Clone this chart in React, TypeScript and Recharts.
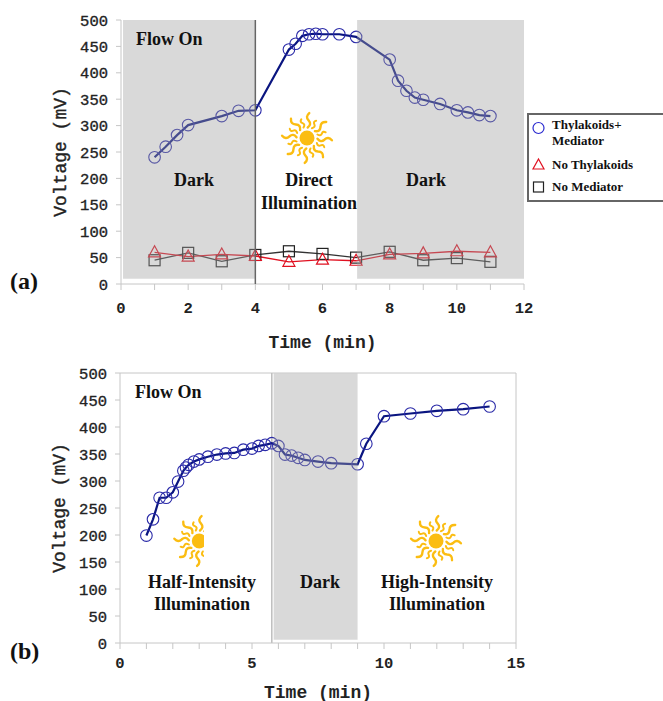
import React from "react";
import {
	LineChart,
	Line,
	XAxis,
	YAxis,
	ReferenceArea,
	ReferenceLine,
} from "recharts";

// panel (a)
const A_THYL_X = [1, 1.33, 1.67, 2, 3, 3.5, 4, 5, 5.2, 5.4, 5.6, 5.8, 6, 6.5, 7, 8, 8.25, 8.5, 8.75, 9, 9.5, 10, 10.33, 10.67, 11];
const A_THYL_Y = [240, 260, 282, 301, 318, 328, 329, 444, 455, 470, 473, 474, 473, 473, 468, 425, 385, 366, 353, 349, 341, 329, 325, 320, 318];
const A_CTRL_X = [1, 2, 3, 4, 5, 6, 7, 8, 9, 10, 11];
const A_NO_THYL = [60, 52, 56, 53, 42, 46, 44, 56, 58, 62, 60];
const A_NO_MED = [45, 59, 43, 55, 62, 57, 50, 61, 45, 49, 42];

// panel (b)
const B_X = [1, 1.25, 1.5, 1.75, 2, 2.2, 2.4, 2.5, 2.6, 2.8, 3, 3.33, 3.67, 4, 4.33, 4.67, 5, 5.25, 5.5, 5.75, 6, 6.25, 6.5, 6.75, 7, 7.5, 8, 9, 9.33, 10, 11, 12, 13, 14];
const B_Y = [199, 229, 269, 269, 279, 299, 319, 325, 330, 336, 340, 345, 349, 351, 352, 358, 360, 365, 367, 370, 365, 349, 347, 343, 339, 336, 333, 331, 369, 420, 425, 430, 433, 438];

const A_TICKS = [0, 1, 2, 3, 4, 5, 6, 7, 8, 9, 10, 11, 12];
const B_TICKS = [0, 1, 2, 3, 4, 5, 6, 7, 8, 9, 10, 11, 12, 13, 14, 15];
const Y_TICKS = [0, 50, 100, 150, 200, 250, 300, 350, 400, 450, 500];

const aThyl = A_THYL_X.map((t, i) => ({ t, v: A_THYL_Y[i] }));
const aNoThyl = A_CTRL_X.map((t, i) => ({ t, v: A_NO_THYL[i] }));
const aNoMed = A_CTRL_X.map((t, i) => ({ t, v: A_NO_MED[i] }));
const bThyl = B_X.map((t, i) => ({ t, v: B_Y[i] }));

const MONO = "'Liberation Mono', monospace";
const SERIF = "'Liberation Serif', serif";
const AXIS = "#c6c6c6";
// sits on top of the lines, they show through washed out
const SHADE = { fill: "#a0a0a0", fillOpacity: 0.4, stroke: "none" };
const xTickStyle = { fill: "#222", fontSize: 15.5, fontFamily: MONO, fontWeight: 700 };
const yTickStyle = { fill: "#222", stroke: "#222", strokeWidth: 0.35, fontSize: 15.5, fontFamily: MONO };
const timeStyle = { fill: "#222", fontSize: 18, fontFamily: MONO, fontWeight: 700 };
const voltStyle = { fill: "#222", stroke: "#222", strokeWidth: 0.4, fontSize: 18, fontFamily: MONO, textAnchor: "middle" };

const Circle = (props: any) => (
	<circle key={props.key} cx={props.cx} cy={props.cy} r={5.8} fill="none" stroke="#2a2aa8" strokeWidth={1.1} />
);
const Triangle = (props: any) => (
	<path
		key={props.key}
		d={`M${props.cx},${props.cy - 6.5}L${props.cx + 6},${props.cy + 4.5}L${props.cx - 6},${props.cy + 4.5}Z`}
		fill="none"
		stroke="#e01020"
		strokeWidth={1.2}
	/>
);
const Square = (props: any) => (
	<rect key={props.key} x={props.cx - 5.5} y={props.cy - 5.5} width={11} height={11} fill="none" stroke="#222" strokeWidth={1.2} />
);

function Sun({ x, y, half }: { x: number; y: number; half?: boolean }) {
	const rays = [];
	for (let i = 0; i < 16; i++) {
		const a = (i * 360) / 16 + 4;
		const d =
			i % 2 === 0
				? "M0,-10.5 Q4,-14 0.5,-17.5 Q-3.5,-21 0.5,-25"
				: "M0,-11 Q3,-13.5 0.5,-15.5 Q-2,-17.5 0.5,-19.5";
		rays.push(
			<path key={i} transform={`rotate(${a})`} d={d} fill="none" stroke="#fbbd12" strokeWidth={i % 2 === 0 ? 2.4 : 2} strokeLinecap="round" />,
		);
	}
	return (
		<svg
			width={half ? 31 : 60}
			height={60}
			viewBox={half ? "-26.3 -30 31 60" : "-30 -30 60 60"}
			style={{ position: "absolute", left: x - (half ? 26.3 : 30), top: y - 30 }}
		>
			<circle r={7.5} fill="#fbbd12" />
			{rays}
		</svg>
	);
}

function Note({ x, y, text, left, size = 18 }: { x: number; y: number; text: string; left?: boolean; size?: number }) {
	return (
		<div
			style={{
				position: "absolute",
				left: x,
				top: y,
				transform: left ? "translateY(-50%)" : "translate(-50%, -50%)",
				fontFamily: SERIF,
				fontWeight: 700,
				fontSize: size,
				color: "#111",
				whiteSpace: "nowrap",
			}}
		>
			{text}
		</div>
	);
}

function LegendBox() {
	const text = { position: "absolute", left: 23, fontFamily: SERIF, fontWeight: 700, fontSize: 13, color: "#111", lineHeight: "16px" } as React.CSSProperties;
	return (
		<div style={{ position: "absolute", left: 527, top: 113, width: 140, height: 85, border: "2px solid #666", background: "#fff" }}>
			<svg width={30} height={85} style={{ position: "absolute", left: 0, top: 0 }}>
				<circle cx={9.5} cy={13} r={5.5} fill="none" stroke="#2a2ad0" strokeWidth={1.2} />
				<path d="M9.5,44L15,54L4,54Z" fill="none" stroke="#e01020" strokeWidth={1.2} />
				<rect x={4.5} y={67} width={10} height={10} fill="none" stroke="#222" strokeWidth={1.2} />
			</svg>
			<div style={{ ...text, top: 2 }}>Thylakoids+</div>
			<div style={{ ...text, top: 18 }}>Mediator</div>
			<div style={{ ...text, top: 42 }}>No Thylakoids</div>
			<div style={{ ...text, top: 64 }}>No Mediator</div>
		</div>
	);
}

export default function App() {
	return (
		<div style={{ position: "absolute", left: 0, top: 0, width: 663, height: 701, overflow: "hidden", background: "#fff" }}>
			<div style={{ position: "absolute", left: 0, top: 0 }}>
				<LineChart width={663} height={364} margin={{ top: 20, right: 139, bottom: 0, left: 61 }}>
					<XAxis
						dataKey="t"
						type="number"
						domain={[0, 12]}
						ticks={A_TICKS}
						interval={0}
						allowDuplicatedCategory={false}
						height={80}
						tick={xTickStyle}
						tickSize={6}
						tickMargin={12}
						stroke={AXIS}
						tickFormatter={(v: number) => (v % 2 === 0 ? String(v) : "")}
						label={{ value: "Time (min)", position: "insideBottom", offset: 16, style: timeStyle }}
					/>
					<YAxis
						type="number"
						domain={[0, 500]}
						ticks={Y_TICKS}
						width={60}
						tick={yTickStyle}
						tickSize={5}
						tickMargin={8}
						stroke={AXIS}
						label={{ value: "Voltage (mV)", angle: -90, position: "insideLeft", offset: -1, style: voltStyle }}
					/>
					<Line data={aNoMed} dataKey="v" stroke="#333" strokeWidth={1.3} dot={Square} isAnimationActive={false} />
					<Line data={aNoThyl} dataKey="v" stroke="#e01020" strokeWidth={1.3} dot={Triangle} isAnimationActive={false} />
					<Line data={aThyl} dataKey="v" stroke="#0a1580" strokeWidth={2.2} dot={Circle} isAnimationActive={false} />
					<ReferenceArea x1={0.06} x2={4} y1={10} y2={500} {...SHADE} zIndex={1000} />
					<ReferenceArea x1={7.03} x2={12} y1={10} y2={500} {...SHADE} zIndex={1000} />
					<ReferenceLine x={4} stroke="#666" strokeWidth={1.5} zIndex={1001} />
				</LineChart>
			</div>
			<div style={{ position: "absolute", left: 0, top: 353 }}>
				<LineChart width={663} height={348} margin={{ top: 20, right: 147, bottom: 0, left: 60 }}>
					<XAxis
						dataKey="t"
						type="number"
						domain={[0, 15]}
						ticks={B_TICKS}
						interval={0}
						allowDuplicatedCategory={false}
						height={58}
						tick={xTickStyle}
						tickSize={6}
						tickMargin={8}
						stroke={AXIS}
						tickFormatter={(v: number) => (v % 5 === 0 ? String(v) : "")}
						label={{ value: "Time (min)", position: "insideBottom", offset: 3, style: timeStyle }}
					/>
					<YAxis
						type="number"
						domain={[0, 500]}
						ticks={Y_TICKS}
						width={60}
						tick={yTickStyle}
						tickSize={5}
						tickMargin={8}
						stroke={AXIS}
						label={{ value: "Voltage (mV)", angle: -90, position: "insideLeft", offset: -1, style: voltStyle }}
					/>
					<ReferenceLine y={500} stroke={AXIS} />
					<ReferenceLine x={15} stroke={AXIS} />
					<ReferenceLine x={5.75} stroke="#bdbdbd" strokeWidth={1.5} />
					<Line data={bThyl} dataKey="v" stroke="#0a1580" strokeWidth={2.2} dot={Circle} isAnimationActive={false} />
					<ReferenceArea x1={5.82} x2={9} y1={6} y2={499} {...SHADE} zIndex={1000} />
				</LineChart>
			</div>

			<Note x={136} y={39} text="Flow On" left />
			<Note x={194} y={180} text="Dark" />
			<Note x={309} y={180} text="Direct" />
			<Note x={309} y={203} text="Illumination" />
			<Note x={426} y={180} text="Dark" />
			<Note x={135} y={392} text="Flow On" left />
			<Note x={202} y={582} text="Half-Intensity" />
			<Note x={202} y={604} text="Illumination" />
			<Note x={320} y={582} text="Dark" />
			<Note x={437} y={582} text="High-Intensity" />
			<Note x={437} y={604} text="Illumination" />
			<Note x={10} y={281} text="(a)" left size={24} />
			<Note x={10} y={651} text="(b)" left size={24} />

			<Sun x={307} y={138} />
			<Sun x={199} y={541} half />
			<Sun x={436} y={541} />
			<LegendBox />
		</div>
	);
}
